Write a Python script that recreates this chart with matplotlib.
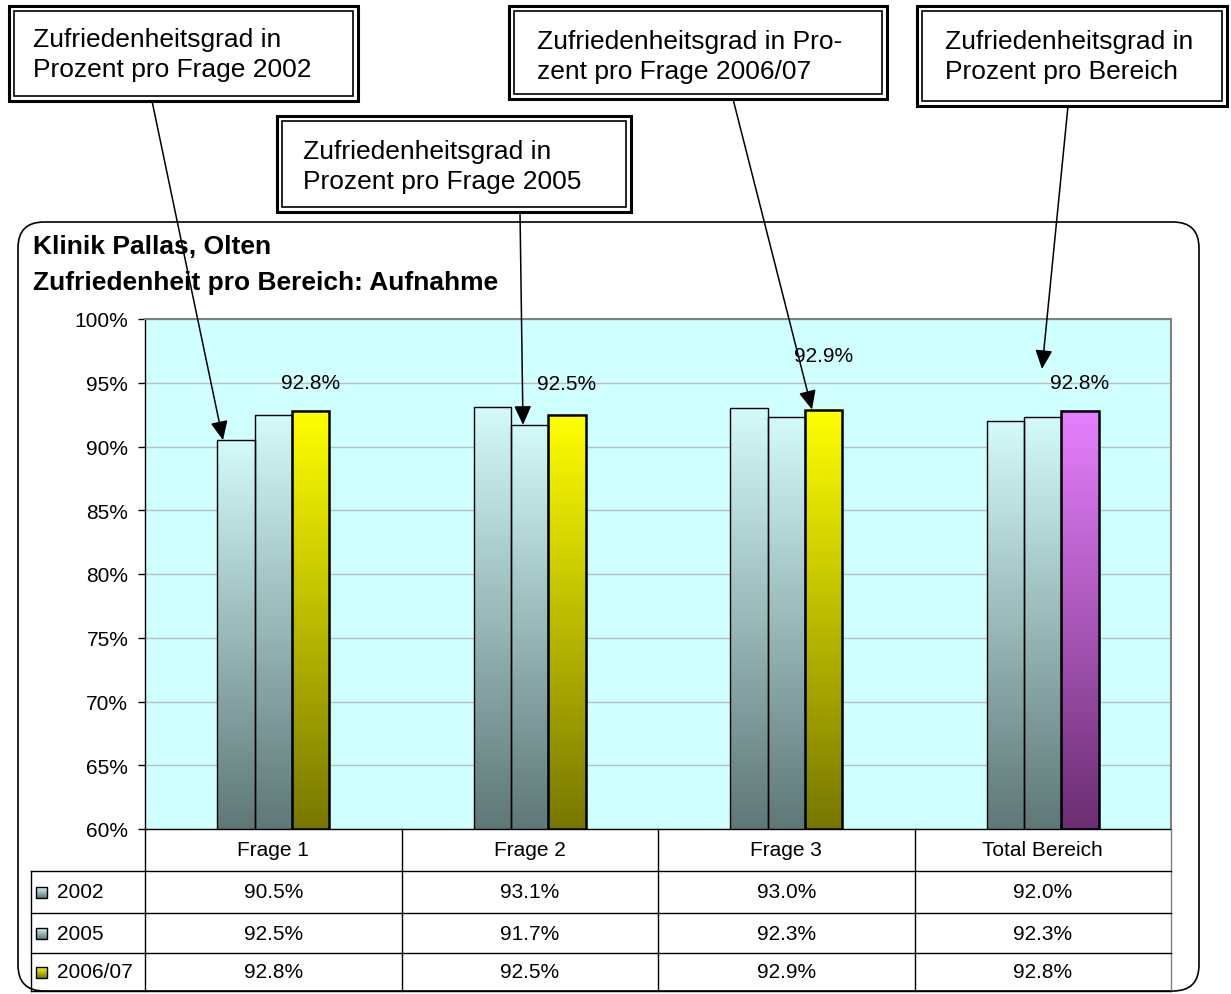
import numpy as np
import matplotlib
matplotlib.use("Agg")
import matplotlib.pyplot as plt
from matplotlib.patches import Rectangle, FancyBboxPatch
from matplotlib.colors import to_rgb

plt.rcParams['font.family'] = ['Liberation Sans', 'DejaVu Sans']

# ---------------- data ----------------
categories = ['Frage 1', 'Frage 2', 'Frage 3', 'Total Bereich']
series_names = ['2002', '2005', '2006/07']
v2002 = [90.5, 93.1, 93.0, 92.0]
v2005 = [92.5, 91.7, 92.3, 92.3]
v2006 = [92.8, 92.5, 92.9, 92.8]
y_ticks = [60, 65, 70, 75, 80, 85, 90, 95, 100]
title_lines = ['Klinik Pallas, Olten', 'Zufriedenheit pro Bereich: Aufnahme']
callouts = [
    ['Zufriedenheitsgrad in', 'Prozent pro Frage 2002'],
    ['Zufriedenheitsgrad in', 'Prozent pro Frage 2005'],
    ['Zufriedenheitsgrad in Pro-', 'zent pro Frage 2006/07'],
    ['Zufriedenheitsgrad in', 'Prozent pro Bereich'],
]

# ---------------- styles ----------------
grad_cyan = ('#5F7777', '#D4FAFA')     # (bottom, top)
grad_yellow = ('#777700', '#FFFF00')
grad_pink = ('#6C2E72', '#E680FF')
series_grads = [grad_cyan, grad_cyan, grad_yellow]
label_dy_px = [28, 31, 54, 28]

W, H = 1231, 995
fig = plt.figure(figsize=(W / 100, H / 100), dpi=100)
fig.patch.set_facecolor('white')

PX0, PX1, PY0, PY1 = 145, 1171, 320, 830   # plot area in pixels
ax = fig.add_axes([PX0 / W, 1 - PY1 / H, (PX1 - PX0) / W, (PY1 - PY0) / H])
XMIN, XMAX, YMIN, YMAX = -0.5, 3.5, 60, 100


def px_x(xd):
    return PX0 + (xd - XMIN) / (XMAX - XMIN) * (PX1 - PX0)


def px_y(yd):
    return PY1 - (yd - YMIN) / (YMAX - YMIN) * (PY1 - PY0)


ax.set_facecolor('#CFFFFF')


def gradient(c_bottom, c_top, n=256):
    b = np.array(to_rgb(c_bottom))
    t = np.array(to_rgb(c_top))
    f = np.linspace(0, 1, n)[:, None]
    return (b + (t - b) * f)[:, None, :]


bw = 0.145
x = np.arange(len(categories))
all_vals = [v2002, v2005, v2006]
for s, vals in enumerate(all_vals):
    xs = x + (s - 1) * bw
    lw = 1.0 if s < 2 else 1.8
    bars = ax.bar(xs, np.array(vals) - YMIN, bottom=YMIN, width=bw,
                  facecolor='none', edgecolor='black', linewidth=lw, zorder=4)
    for i, r in enumerate(bars.patches):
        g = series_grads[s]
        if s == 2 and i == 3:
            g = grad_pink
        ax.imshow(gradient(*g), extent=(r.get_x(), r.get_x() + r.get_width(),
                                        YMIN, vals[i]),
                  origin='lower', aspect='auto', zorder=3, interpolation='bilinear')

ax.set_xlim(XMIN, XMAX)
ax.set_ylim(YMIN, YMAX)
ax.set_xticks([])
ax.set_yticks(y_ticks)
ax.set_yticklabels([f'{t}%' for t in y_ticks], fontsize=15)
ax.tick_params(axis='y', length=5, width=1, pad=7, colors='black')
ax.yaxis.grid(True, color='#BDBDBD', linewidth=1)
ax.set_axisbelow(True)
for sp in ['top', 'right']:
    ax.spines[sp].set_color('#808080')
    ax.spines[sp].set_linewidth(1.5)
for sp in ['left', 'bottom']:
    ax.spines[sp].set_color('black')
    ax.spines[sp].set_linewidth(1.0)

# data labels for 2006/07
for i, v in enumerate(v2006):
    xc = x[i] + bw
    ydat = YMIN + (PY1 - (px_y(v) - label_dy_px[i])) / (PY1 - PY0) * (YMAX - YMIN)
    ax.text(xc, ydat, f'{v:.1f}%', ha='center', va='center', fontsize=15, zorder=6)

# ---------------- overlay (pixel coordinates) ----------------
ov = fig.add_axes([0, 0, 1, 1], zorder=5)
ov.axis('off')

# chart area rounded frame
ov.add_patch(FancyBboxPatch((18, 223), 1181, 769,
                            boxstyle='round,pad=0,rounding_size=26',
                            fill=False, edgecolor='black', linewidth=1.2))

# titles
ov.text(33, 247, title_lines[0], fontsize=19, fontweight='bold', va='center', ha='left')
ov.text(33, 283, title_lines[1], fontsize=19, fontweight='bold', va='center', ha='left')

# data table
TL, T_HDR, T_ROWS = 31, 872, [872, 914, 954, 992]
col_edges = [px_x(c - 0.5) for c in range(len(categories) + 1)]
lc = 'black'
for ce in col_edges:
    ov.plot([ce, ce], [PY1, T_ROWS[-1]], color=lc if ce < PX1 - 1 else '#808080', lw=1.0)
ov.plot([TL, TL], [T_ROWS[0], T_ROWS[-1]], color=lc, lw=1.0)
for yy in T_ROWS:
    ov.plot([TL, PX1], [yy, yy], color=lc, lw=1.0)
for i, c in enumerate(categories):
    ov.text(px_x(x[i]), (PY1 + T_HDR) / 2, c, ha='center', va='center', fontsize=15)
row_c = [(T_ROWS[k] + T_ROWS[k + 1]) / 2 for k in range(3)]
for s, vals in enumerate(all_vals):
    for i, v in enumerate(vals):
        ov.text(px_x(x[i]), row_c[s], f'{v:.1f}%', ha='center', va='center', fontsize=15)
    sx0, sx1 = 36, 47
    sy0, sy1 = row_c[s] - 5.5, row_c[s] + 5.5
    ov.imshow(gradient(*series_grads[s]), extent=(sx0, sx1, sy1, sy0),
              origin='lower', aspect='auto', interpolation='bilinear')
    ov.add_patch(Rectangle((sx0, sy0), sx1 - sx0, sy1 - sy0, fill=False,
                           edgecolor='black', lw=1.0))
    ov.text(57, row_c[s], series_names[s], ha='left', va='center', fontsize=15)

# callout boxes (double frame)
boxes = [(9, 7, 358, 102), (277, 117, 631, 213), (509, 7, 887, 100), (917, 7, 1227, 107)]
text_pos = [(33, 40, 70), (303, 152, 182), (537, 42, 72), (945, 42, 72)]
for (x0, y0, x1, y1), (tx, ty1, ty2), lines in zip(boxes, text_pos, callouts):
    ov.add_patch(Rectangle((x0, y0), x1 - x0, y1 - y0, facecolor='white',
                           edgecolor='black', lw=2.2, zorder=3))
    ov.add_patch(Rectangle((x0 + 5, y0 + 5), x1 - x0 - 10, y1 - y0 - 10, fill=False,
                           edgecolor='black', lw=1.2, zorder=3))
    ov.text(tx, ty1, lines[0], fontsize=19, va='center', ha='left', zorder=4)
    ov.text(tx, ty2, lines[1], fontsize=19, va='center', ha='left', zorder=4)

# arrows
starts = [(152, 102), (520, 213), (733, 100), (1068, 107)]
tips = [(223, px_y(v2002[0])), (523, px_y(v2005[1])), (812, px_y(v2006[2])), (1042, 370)]
for st, tp in zip(starts, tips):
    ov.annotate('', xy=tp, xytext=st,
                arrowprops=dict(arrowstyle='-|>,head_length=0.55,head_width=0.25',
                                mutation_scale=21, lw=1.1, color='black',
                                shrinkA=0, shrinkB=0), zorder=2)

ov.set_xlim(0, W)
ov.set_ylim(H, 0)

fig.savefig('out.png', dpi=100, facecolor='white')
